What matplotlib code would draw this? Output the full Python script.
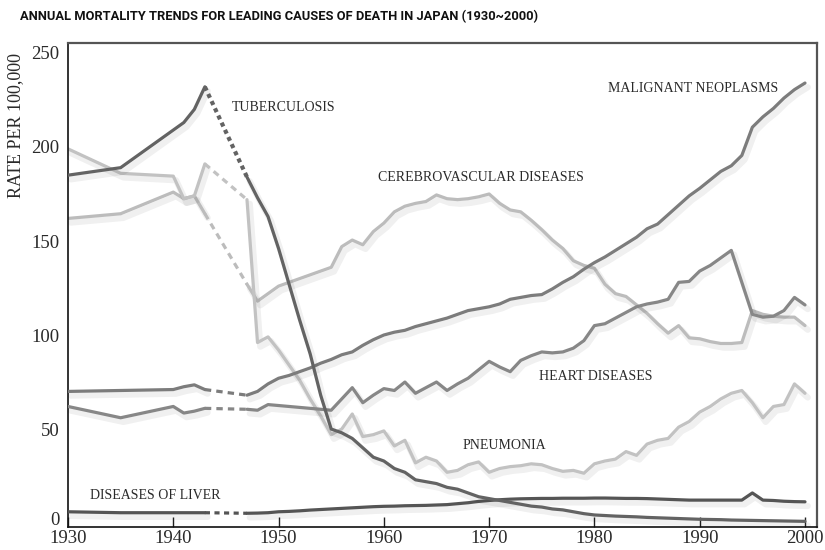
import matplotlib
matplotlib.use("Agg")
import matplotlib.pyplot as plt
import matplotlib.patheffects as pe
import matplotlib.transforms as mtransforms

# years with data before and after the wartime gap
years_pre = [1930, 1935, 1940, 1941, 1942, 1943]
years_post = list(range(1947, 2001))

tb_pre = [185, 189, 209, 213, 220, 232]
tb_post = [184, 173, 163, 146, 127, 108, 90, 68, 50,
           48, 45, 40, 35, 33, 29, 27, 23, 22, 21,
           19, 18, 16, 14, 13, 12, 11, 10, 9, 8.5,
           7.5, 7, 6, 5, 4.3, 4, 3.7, 3.5, 3.3, 3,
           2.8, 2.6, 2.4, 2.2, 2, 1.9, 1.8, 1.6, 1.5, 1.4,
           1.3, 1.2, 1.1, 1.0, 0.9]

mal_pre = [70, 70.5, 71, 72.5, 73.5, 71]
mal_post = [68, 70, 74, 77, 78.5, 80.5, 82.5, 85, 87,
            89.5, 91, 94.5, 97.5, 100, 101.5, 102.5, 104.5, 106, 107.5,
            109, 111, 113, 114, 115, 116.5, 119, 120, 121, 121.5,
            124.5, 128, 131, 135, 138.5, 141.5, 145, 148.5, 152, 156.5,
            159, 164, 169, 174, 178, 182.5, 187, 190, 195.5, 210.5,
            216, 220.5, 226, 230.5, 234]

heart_pre = [62, 56, 62, 58.5, 59.5, 61]
heart_post = [60.5, 60, 63, 62.5, 62, 61.5, 61, 60.5, 60,
              66, 72, 64, 68, 71.5, 70.5, 75, 69, 72, 75,
              70.5, 74, 77, 81.5, 86, 83, 80.5, 86.5, 89, 91,
              90.5, 91, 93, 97, 105, 106, 109, 112, 115, 116.5,
              117.5, 119, 128, 128.5, 134, 137, 141, 145, 128, 111,
              109.5, 110, 113, 120, 116]

cere_pre = [162, 164.5, 176, 172.5, 174, 164.5]
cere_post = [127, 118, 122, 126, 128, 130, 132, 134, 136,
             147, 150.5, 148, 155, 159.5, 165.5, 168.5, 170, 171, 174.5,
             172.5, 172, 172.5, 173.5, 175, 170, 166.5, 165.5, 161, 156,
             150.5, 146, 139.5, 137, 135.5, 127, 122, 120.5, 116, 111.5,
             106, 101, 105, 98.5, 98, 96.5, 95.5, 95.5, 96, 113,
             111, 110, 109.5, 109.5, 105]

pneu_pre = [199, 186, 184.5, 172.5, 174, 191]
pneu_post = [172, 96, 99, 92, 84, 76, 66, 57, 47,
             50, 58, 46, 47, 49, 41, 44, 32, 35, 33,
             27, 28, 31, 32.5, 27, 29, 30, 30.5, 31.5, 31,
             29, 27.5, 28, 26.5, 31.5, 33, 34, 38, 36, 42,
             44, 45, 51, 54, 59, 62, 66, 69, 70.5, 64,
             56, 62, 63, 74, 69]

liver_pre = [6, 5.5, 5.5, 5.5, 5.5, 5.5]
liver_post = [5.2, 5.3, 5.5, 6, 6.2, 6.5, 6.9, 7.2, 7.5,
              7.8, 8.1, 8.4, 8.7, 8.9, 9, 9.2, 9.3, 9.4, 9.6,
              9.8, 10.3, 10.8, 11.5, 12, 12.4, 12.7, 12.9, 13, 13.1,
              13.1, 13.2, 13.2, 13.2, 13.3, 13.3, 13.2, 13.1, 13.1, 13,
              12.8, 12.6, 12.4, 12.2, 12.2, 12.2, 12.2, 12.2, 12.2, 16,
              12.2, 12, 11.6, 11.4, 11.3]

serif = ['Liberation Serif', 'DejaVu Serif']
txt_col = '#2a2a2a'

fig = plt.figure(figsize=(8.25, 5.5), dpi=100)
ax = fig.add_axes([68 / 825, 1 - 527 / 550, (817 - 68) / 825, (527 - 43) / 550])

shadow = [pe.SimpleLineShadow(offset=(2, -3), shadow_color='black', alpha=0.06, linewidth=4.5),
          pe.Normal()]

series = [
    (cere_pre, cere_post, '#bcbcbc', (0, (2.0, 1.6)), 2),
    (pneu_pre, pneu_post, '#c2c2c2', (0, (2.0, 1.6)), 2),
    (heart_pre, heart_post, '#878787', (0, (2.0, 1.6)), 3),
    (mal_pre, mal_post, '#7c7c7c', (0, (2.0, 1.6)), 3),
    (liver_pre, liver_post, '#555555', (0, (1.6, 1.4)), 4),
    (tb_pre, tb_post, '#636363', (0, (1.0, 0.9)), 4),
]

for pre, post, col, gap_style, z in series:
    ax.plot(years_pre, pre, color=col, lw=2.3, solid_capstyle='round',
            solid_joinstyle='round', path_effects=shadow, zorder=z)
    ax.plot(years_post, post, color=col, lw=2.3, solid_capstyle='round',
            solid_joinstyle='round', path_effects=shadow, zorder=z)
    ax.plot([years_pre[-1], years_post[0]], [pre[-1], post[0]], color=col,
            lw=3.0 if gap_style[1][0] < 1.5 else 2.3, linestyle=gap_style,
            dash_capstyle='butt', zorder=z)

ax.set_xlim(1930, 2001.14)
ax.set_ylim(-2.1, 255.3)
ax.set_xticks(range(1930, 2001, 10))
ax.set_yticks([0, 50, 100, 150, 200, 250])
ax.tick_params(axis='x', direction='in', length=7, width=1, color='#222222',
               labelsize=13.5, pad=2, labelcolor=txt_col)
ax.tick_params(axis='y', length=0, labelsize=13.5, pad=6, labelcolor=txt_col)
for lab in ax.get_xticklabels() + ax.get_yticklabels():
    lab.set_family(serif)
# the zero label sits a little above the axis line, as in the original
ylabs = ax.get_yticklabels()
ylabs[0].set_transform(ylabs[0].get_transform() +
                       mtransforms.ScaledTranslation(0, 5 / 100, fig.dpi_scale_trans))

for side in ['left', 'bottom']:
    ax.spines[side].set_color('#111111')
    ax.spines[side].set_linewidth(1.2)
for side in ['top', 'right']:
    ax.spines[side].set_color('#555555')
    ax.spines[side].set_linewidth(1.6)

labels = [
    ('TUBERCULOSIS', 1945.6, 221),
    ('CEREBROVASCULAR DISEASES', 1959.4, 184),
    ('MALIGNANT NEOPLASMS', 1981.3, 231),
    ('HEART DISEASES', 1974.7, 78),
    ('PNEUMONIA', 1967.5, 41.5),
    ('DISEASES OF LIVER', 1932.1, 14.4),
]
for s, x, y in labels:
    ax.text(x, y, s, family=serif, fontsize=10, color=txt_col,
            ha='left', va='center', zorder=6)

fig.text(16 / 825, 1 - 126 / 550, 'RATE PER 100,000', rotation=90,
         family=serif, fontsize=13, color=txt_col, ha='center', va='center')

title = fig.text(20 / 825, 1 - 17 / 550,
                 'ANNUAL MORTALITY TRENDS FOR LEADING CAUSES OF DEATH IN JAPAN (1930~2000)',
                 family=['Liberation Sans Narrow', 'Roboto', 'DejaVu Sans'],
                 fontweight='bold', fontsize=11, color='#111111', ha='left', va='center')
# fit the title to the width it has in the original (about 520 px)
fig.canvas.draw()
w = title.get_window_extent().width
title.set_fontsize(11 * 520 / w)

fig.savefig('out.png', dpi=100)
